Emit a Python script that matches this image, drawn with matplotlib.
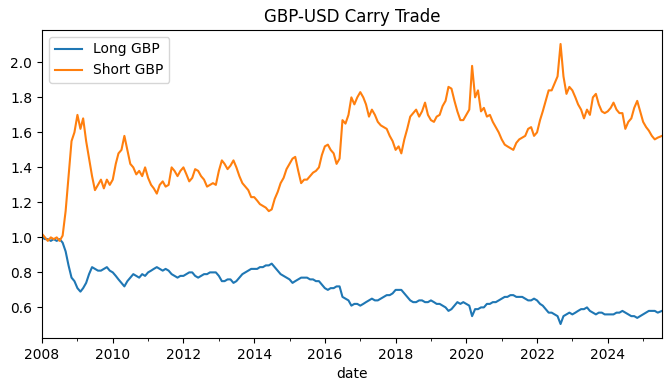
#!/usr/bin/env python3
import matplotlib
matplotlib.use("Agg")
import matplotlib.dates as mdates
import matplotlib.pyplot as plt
import pandas as pd

# monthly values, Jan 2008 .. Jul 2025
START = "2008-01-01"
END = "2025-07-15"

long_gbp = [
    1.00, 0.99, 0.99, 0.98, 0.99, 0.98, 0.99, 0.97, 0.92, 0.84, 0.77, 0.75,  # 2008
    0.71, 0.69, 0.71, 0.74, 0.79, 0.83, 0.82, 0.81, 0.81, 0.82, 0.83, 0.81,  # 2009
    0.80, 0.78, 0.76, 0.74, 0.72, 0.75, 0.77, 0.79, 0.78, 0.77, 0.79, 0.78,  # 2010
    0.80, 0.81, 0.82, 0.83, 0.82, 0.81, 0.82, 0.81, 0.79, 0.78, 0.77, 0.78,  # 2011
    0.78, 0.79, 0.80, 0.80, 0.78, 0.77, 0.78, 0.79, 0.79, 0.80, 0.80, 0.80,  # 2012
    0.78, 0.75, 0.75, 0.76, 0.76, 0.74, 0.75, 0.77, 0.79, 0.80, 0.81, 0.82,  # 2013
    0.82, 0.82, 0.83, 0.83, 0.84, 0.84, 0.85, 0.83, 0.81, 0.79, 0.78, 0.77,  # 2014
    0.76, 0.74, 0.75, 0.76, 0.77, 0.77, 0.77, 0.76, 0.76, 0.75, 0.75, 0.73,  # 2015
    0.71, 0.70, 0.71, 0.71, 0.72, 0.72, 0.66, 0.65, 0.64, 0.61, 0.62, 0.62,  # 2016
    0.61, 0.62, 0.63, 0.64, 0.65, 0.64, 0.64, 0.65, 0.66, 0.67, 0.67, 0.68,  # 2017
    0.70, 0.70, 0.70, 0.68, 0.66, 0.64, 0.63, 0.63, 0.64, 0.64, 0.63, 0.63,  # 2018
    0.64, 0.63, 0.62, 0.62, 0.61, 0.60, 0.58, 0.59, 0.61, 0.63, 0.62, 0.63,  # 2019
    0.62, 0.61, 0.55, 0.59, 0.59, 0.60, 0.60, 0.62, 0.62, 0.63, 0.63, 0.64,  # 2020
    0.65, 0.66, 0.66, 0.67, 0.67, 0.66, 0.66, 0.66, 0.65, 0.64, 0.64, 0.65,  # 2021
    0.64, 0.62, 0.61, 0.59, 0.57, 0.57, 0.56, 0.55, 0.505, 0.55, 0.56, 0.57,  # 2022
    0.56, 0.57, 0.58, 0.59, 0.59, 0.60, 0.58, 0.57, 0.56, 0.57, 0.57, 0.56,  # 2023
    0.56, 0.56, 0.56, 0.57, 0.57, 0.58, 0.57, 0.56, 0.55, 0.55, 0.54, 0.55,  # 2024
    0.56, 0.57, 0.58, 0.58, 0.58, 0.57, 0.58,  # 2025
]

short_gbp = [
    1.02, 1.00, 0.98, 1.00, 0.99, 1.00, 0.98, 1.01, 1.15, 1.35, 1.55, 1.60,  # 2008
    1.70, 1.62, 1.68, 1.55, 1.45, 1.35, 1.27, 1.30, 1.33, 1.28, 1.33, 1.30,  # 2009
    1.33, 1.42, 1.48, 1.50, 1.58, 1.50, 1.42, 1.40, 1.36, 1.38, 1.35, 1.40,  # 2010
    1.34, 1.30, 1.28, 1.25, 1.30, 1.32, 1.29, 1.30, 1.40, 1.38, 1.35, 1.38,  # 2011
    1.40, 1.36, 1.32, 1.34, 1.39, 1.38, 1.35, 1.33, 1.29, 1.30, 1.31, 1.30,  # 2012
    1.38, 1.44, 1.42, 1.39, 1.41, 1.44, 1.40, 1.35, 1.31, 1.29, 1.27, 1.23,  # 2013
    1.23, 1.21, 1.19, 1.18, 1.17, 1.15, 1.16, 1.22, 1.26, 1.31, 1.34, 1.39,  # 2014
    1.42, 1.45, 1.46, 1.38, 1.31, 1.33, 1.33, 1.35, 1.37, 1.38, 1.40, 1.47,  # 2015
    1.52, 1.53, 1.50, 1.48, 1.42, 1.45, 1.67, 1.65, 1.70, 1.80, 1.76, 1.80,  # 2016
    1.83, 1.80, 1.76, 1.69, 1.73, 1.70, 1.66, 1.64, 1.63, 1.62, 1.58, 1.55,  # 2017
    1.50, 1.52, 1.48, 1.56, 1.62, 1.69, 1.71, 1.73, 1.69, 1.72, 1.77, 1.70,  # 2018
    1.67, 1.66, 1.69, 1.70, 1.75, 1.78, 1.86, 1.85, 1.78, 1.72, 1.67, 1.67,  # 2019
    1.70, 1.73, 1.98, 1.80, 1.84, 1.72, 1.74, 1.69, 1.70, 1.66, 1.63, 1.60,  # 2020
    1.56, 1.53, 1.52, 1.51, 1.50, 1.54, 1.56, 1.57, 1.58, 1.62, 1.63, 1.58,  # 2021
    1.60, 1.67, 1.72, 1.78, 1.84, 1.84, 1.88, 1.92, 2.105, 1.92, 1.82, 1.86,  # 2022
    1.84, 1.80, 1.76, 1.73, 1.68, 1.73, 1.70, 1.80, 1.82, 1.76, 1.72, 1.71,  # 2023
    1.72, 1.74, 1.77, 1.73, 1.71, 1.71, 1.62, 1.66, 1.68, 1.74, 1.78, 1.72,  # 2024
    1.66, 1.63, 1.61, 1.58, 1.56, 1.57, 1.58,  # 2025
]

dates = pd.date_range(START, periods=len(long_gbp), freq="MS").tolist()
dates[-1] = pd.Timestamp(END)
df = pd.DataFrame({"Long GBP": long_gbp, "Short GBP": short_gbp}, index=pd.DatetimeIndex(dates, name="date"))

fig, ax = plt.subplots(figsize=(6.71, 3.91), dpi=100)
fig.subplots_adjust(left=0.0626, right=0.9866, top=0.9233, bottom=0.1355)

ax.plot(df.index, df["Long GBP"], label="Long GBP")
ax.plot(df.index, df["Short GBP"], label="Short GBP")

ax.set_xlim(df.index[0], df.index[-1])
ax.xaxis.set_major_locator(mdates.YearLocator(2))
ax.xaxis.set_minor_locator(mdates.YearLocator(1))
ax.xaxis.set_major_formatter(mdates.DateFormatter("%Y"))
ax.set_xlabel("date")
ax.set_title("GBP-USD Carry Trade")
ax.legend(loc="upper left")

fig.savefig("out.png", dpi=100)
